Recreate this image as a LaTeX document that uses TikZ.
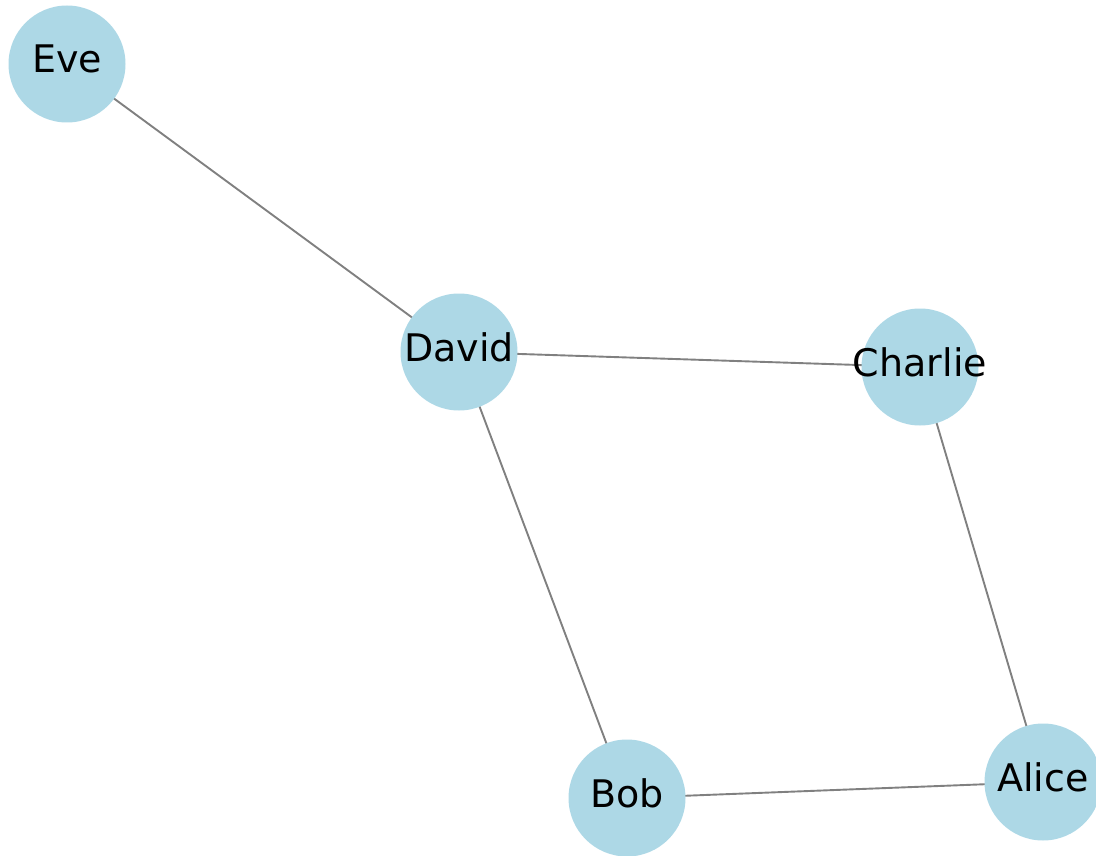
\documentclass[tikz,border=0pt]{standalone}
\usepackage{fontspec}
\setmainfont{DejaVu Sans}
\definecolor{nodefill}{HTML}{ADD8E6}
\definecolor{edgegray}{HTML}{808080}
% name centred on the circle, cap line sitting a little above the middle
\newcommand{\personname}[1]{\raisebox{-9pt}[0pt][0pt]{\makebox[0pt]{#1}}}
\begin{document}
\begin{tikzpicture}[x=1pt,y=-1pt,
  person/.style={circle,fill=nodefill,draw=none,minimum size=117pt,inner sep=0pt,
    text width=0pt,align=center,
    font=\fontsize{38}{44}\selectfont,text=black},
  link/.style={draw=edgegray,line width=1.9pt}]
  \useasboundingbox (0,0) rectangle (1096,856);
  % people
  \coordinate (cEve) at (67,64);
  \coordinate (cDavid) at (459,352);
  \coordinate (cCharlie) at (920,367);
  \coordinate (cBob) at (627,798);
  \coordinate (cAlice) at (1043,782);
  % friendships, drawn beneath the circles
  \draw[link] (cEve) -- (cDavid);
  \draw[link] (cDavid) -- (cCharlie);
  \draw[link] (cDavid) -- (cBob);
  \draw[link] (cCharlie) -- (cAlice);
  \draw[link] (cBob) -- (cAlice);
  \node[person] (Eve) at (cEve) {\personname{Eve}};
  \node[person] (David) at (cDavid) {\personname{David}};
  \node[person] (Charlie) at (cCharlie) {\personname{Charlie}};
  \node[person] (Bob) at (cBob) {\personname{Bob}};
  \node[person] (Alice) at (cAlice) {\personname{Alice}};
\end{tikzpicture}
\end{document}
